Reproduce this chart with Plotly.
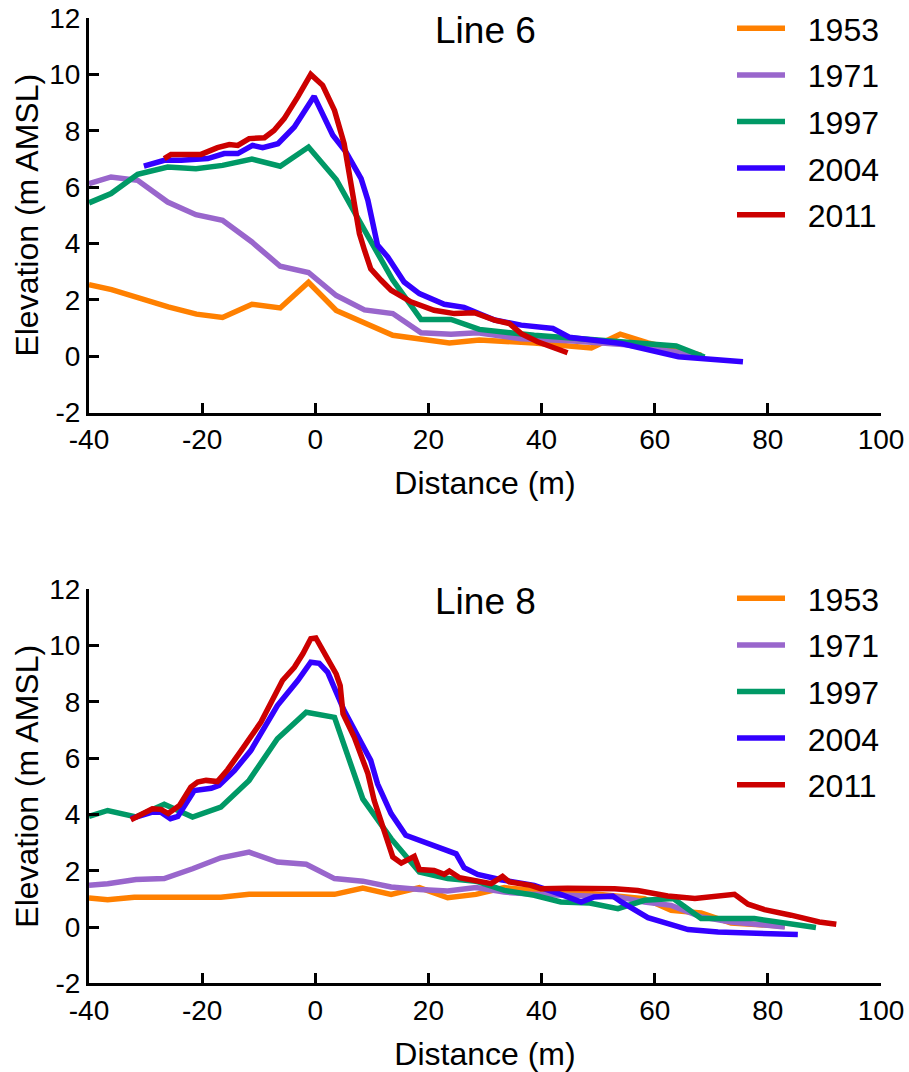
import plotly.graph_objects as go

YEARS = ["1953", "1971", "1997", "2004", "2011"]
COLORS = ["#FF8000", "#9966CC", "#009966", "#3300FF", "#CC0000"]

# ---- Line 6 ----
L6_X_1953 = [-40, -36, -26, -21, -16.4, -11.2, -6.2, -1.2, 3.7, 13.7, 23.7, 29, 38.7, 48.8, 53.9, 58.8, 68.2]
L6_Y_1953 = [2.54, 2.36, 1.75, 1.49, 1.37, 1.84, 1.71, 2.62, 1.62, 0.74, 0.47, 0.57, 0.47, 0.29, 0.78, 0.47, 0.03]
L6_X_1971 = [-40, -36.1, -31.4, -26.1, -21.1, -16.4, -11.2, -6.2, -1.2, 3.7, 8.7, 13.7, 18.7, 24, 28.7, 36.4, 45, 55, 67]
L6_Y_1971 = [6.12, 6.36, 6.24, 5.47, 5.02, 4.82, 4.05, 3.19, 2.97, 2.15, 1.64, 1.51, 0.83, 0.78, 0.83, 0.62, 0.55, 0.40, 0.05]
L6_X_1997 = [-40, -36.1, -31.4, -26.1, -21.1, -16.4, -11.2, -6.2, -1.2, 3.7, 8.7, 13.7, 18.7, 24, 29, 38.7, 48.8, 58.8, 63.8, 68.8]
L6_Y_1997 = [5.44, 5.77, 6.45, 6.71, 6.65, 6.77, 6.99, 6.74, 7.42, 6.27, 4.47, 2.70, 1.30, 1.30, 0.95, 0.74, 0.59, 0.43, 0.36, -0.03]
L6_X_2004 = [-30.3, -26.7, -23.7, -19.0, -16.1, -13.7, -11.1, -9.3, -6.6, -3.7, -0.2, 3.1, 5.4, 8.1, 9.3, 11.0, 12.8, 15.7,
             18.4, 22.8, 26.3, 31.7, 36.4, 42.0, 44.9, 54.1, 64.2, 75.6]
L6_Y_2004 = [6.74, 6.95, 6.95, 7.01, 7.19, 7.19, 7.48, 7.40, 7.54, 8.13, 9.22, 7.84, 7.25, 6.30, 5.53, 3.94, 3.52, 2.63,
             2.22, 1.84, 1.73, 1.28, 1.10, 0.98, 0.67, 0.45, -0.02, -0.20]
L6_X_2011 = [-26.7, -25.5, -20.2, -17.3, -15.2, -13.7, -11.7, -9.0, -7.3, -5.5, -3.1, -0.8, 1.3, 3.4, 5.1, 6.6, 7.8, 8.7,
             9.8, 11.6, 13.4, 16.9, 21.0, 24.6, 28.1, 31.7, 34.3, 36.4, 39.3, 44.6]
L6_Y_2011 = [7.01, 7.16, 7.16, 7.40, 7.51, 7.48, 7.72, 7.75, 8.01, 8.43, 9.20, 10.0, 9.61, 8.72, 7.54, 5.89, 4.35, 3.76,
             3.10, 2.70, 2.34, 1.93, 1.63, 1.51, 1.54, 1.28, 1.16, 0.80, 0.51, 0.12]

# ---- Line 8 ----
L8_X_1953 = [-40, -36.7, -32.0, -16.7, -11.7, 3.4, 8.4, 13.4, 18.4, 23.4, 28.4, 33.4, 38.7, 48, 58.2, 62.9, 68.2, 73.5, 83]
L8_Y_1953 = [1.03, 0.97, 1.06, 1.06, 1.16, 1.16, 1.38, 1.16, 1.40, 1.04, 1.16, 1.40, 1.30, 1.20, 1.01, 0.59, 0.50, 0.14, 0.03]
L8_X_1971 = [-40, -36.7, -31.7, -26.7, -21.7, -16.7, -11.7, -6.7, -1.6, 3.4, 8.4, 13.4, 18.4, 23.4, 28.4, 33.4, 38.7,
             53.5, 58.2, 62.9, 68.2, 73.5, 83]
L8_Y_1971 = [1.48, 1.54, 1.69, 1.72, 2.07, 2.46, 2.66, 2.31, 2.23, 1.72, 1.63, 1.42, 1.33, 1.28, 1.40, 1.24, 1.16,
             1.07, 0.89, 0.77, 0.36, 0.18, 0.0]
L8_X_1997 = [-40, -36.7, -31.7, -26.7, -21.7, -16.7, -11.7, -6.7, -1.6, 3.4, 8.4, 13.4, 18.4, 23.4, 28.4, 33.4, 38.7,
             43.4, 48.5, 53.5, 58.2, 63.3, 68.2, 77.6, 88.5]
L8_Y_1997 = [3.93, 4.14, 3.91, 4.36, 3.91, 4.26, 5.21, 6.69, 7.63, 7.45, 4.55, 3.14, 1.95, 1.72, 1.63, 1.30, 1.13,
             0.89, 0.85, 0.65, 0.95, 1.01, 0.30, 0.30, -0.02]
L8_X_2004 = [-32.6, -28.8, -27.3, -25.6, -24.3, -21.4, -18.4, -17.0, -14.3, -11.4, -6.7, -3.1, -0.8, 0.7, 2.2, 5.1, 8.7,
             9.8, 11.0, 13.4, 16.0, 18.7, 21.9, 23.7, 24.9, 26.3, 28.7, 32.8, 38.7, 43.4, 47.0, 49.3, 52.6, 54.1, 58.8,
             65.9, 71.2, 85.3]
L8_Y_2004 = [3.85, 4.08, 4.08, 3.85, 3.93, 4.85, 4.93, 5.03, 5.56, 6.27, 7.87, 8.76, 9.41, 9.37, 9.05, 7.69, 6.33,
             5.92, 5.09, 4.03, 3.26, 3.05, 2.82, 2.66, 2.60, 2.11, 1.87, 1.68, 1.48, 1.16, 0.89, 1.07, 1.10, 0.89, 0.33,
             -0.09, -0.18, -0.27]
L8_X_2011 = [-32.6, -30.5, -28.8, -27.3, -26.0, -24.0, -22.0, -20.8, -19.3, -17.3, -15.5, -13.1, -9.6, -5.8, -3.7, -2.2,
             -0.8, 0.1, 1.9, 3.7, 4.4, 4.9, 6.9, 9.3, 10.4, 13.7, 15.2, 17.5, 18.4, 21.0, 22.8, 23.7, 25.5, 28.1, 31.1,
             33.1, 34.3, 38.1, 39.9, 44.6, 52.9, 57.0, 62.3, 67.1, 74.1, 76.5, 79.4, 84.1, 89.1, 92.1]
L8_Y_2011 = [3.81, 4.03, 4.20, 4.18, 4.03, 4.32, 4.97, 5.15, 5.21, 5.17, 5.59, 6.27, 7.28, 8.76, 9.23, 9.71,
             10.24, 10.27, 9.58, 8.99, 8.58, 7.58, 6.74, 5.45, 4.50, 2.49, 2.27, 2.51, 2.04, 2.01, 1.87, 1.99, 1.75, 1.66, 1.54,
             1.80, 1.60, 1.48, 1.36, 1.38, 1.36, 1.30, 1.10, 1.01, 1.16, 0.81, 0.62, 0.42, 0.18, 0.10]

X_TICKS = [-40, -20, 0, 20, 40, 60, 80, 100]
X_TICK_TEXT = ["-40", "-20", "0", "20", "40", "60", "80", "100"]
Y_TICKS = [-2, 0, 2, 4, 6, 8, 10, 12]
Y_TICK_TEXT = ["-2", "0", "2", "4", "6", "8", "10", "12"]
TITLES = ["Line 6", "Line 8"]

FONT = "Arial, Liberation Sans, sans-serif"
W, H = 909, 1072

L6 = [(L6_X_1953, L6_Y_1953), (L6_X_1971, L6_Y_1971), (L6_X_1997, L6_Y_1997), (L6_X_2004, L6_Y_2004), (L6_X_2011, L6_Y_2011)]
L8 = [(L8_X_1953, L8_Y_1953), (L8_X_1971, L8_Y_1971), (L8_X_1997, L8_Y_1997), (L8_X_2004, L8_Y_2004), (L8_X_2011, L8_Y_2011)]

NBSP = "\u00a0"

fig = go.Figure()
for panel, (series, xa, ya, leg) in enumerate([(L6, "x", "y", "legend"), (L8, "x2", "y2", "legend2")]):
    for yr, col, (xs, ys) in zip(YEARS, COLORS, series):
        fig.add_trace(go.Scatter(
            x=xs, y=ys, mode="lines", name=NBSP * 2 + yr, xaxis=xa, yaxis=ya,
            line=dict(color=col, width=5.5), legend=leg, legendgroup=f"p{panel}_{yr}",
        ))

xdom = [89 / W, 881 / W]
ydom_top = [1 - 412.5 / H, 1 - 18 / H]
ydom_bot = [1 - 983.3 / H, 1 - 589.3 / H]

def xaxis_cfg(anchor):
    return dict(
        domain=xdom, anchor=anchor, range=[-40, 100], tickvals=X_TICKS, ticktext=X_TICK_TEXT,
        ticks="inside", ticklen=10, tickwidth=3, tickcolor="black",
        showline=True, linewidth=3, linecolor="black", mirror=False,
        showgrid=False, zeroline=False,
        tickfont=dict(family=FONT, size=28, color="black"),
        title=dict(text="Distance (m)", font=dict(family=FONT, size=32, color="black"), standoff=18),
    )

def yaxis_cfg(anchor, dom):
    return dict(
        domain=dom, anchor=anchor, range=[-2, 12], tickvals=Y_TICKS, ticktext=Y_TICK_TEXT,
        ticks="inside", ticklen=10, tickwidth=3, tickcolor="black",
        showline=True, linewidth=3, linecolor="black",
        showgrid=False, zeroline=False,
        tickfont=dict(family=FONT, size=28, color="black"),
        title=dict(text="Elevation (m AMSL)", font=dict(family=FONT, size=32, color="black"), standoff=2),
    )

legend_common = dict(
    xanchor="left", yanchor="top", bgcolor="rgba(0,0,0,0)", borderwidth=0,
    font=dict(family=FONT, size=32, color="black"), itemwidth=48, tracegroupgap=2,
    traceorder="grouped",
)

fig.update_layout(
    width=W, height=H,
    margin=dict(l=0, r=0, t=0, b=0, autoexpand=False),
    paper_bgcolor="white", plot_bgcolor="white",
    xaxis=xaxis_cfg("y"),
    yaxis=yaxis_cfg("x", ydom_top),
    xaxis2=xaxis_cfg("y2"),
    yaxis2=yaxis_cfg("x2", ydom_bot),
    legend=dict(x=732 / W, y=1 - 1 / H, **legend_common),
    legend2=dict(x=732 / W, y=1 - 571 / H, **legend_common),
    annotations=[
        dict(text=TITLES[0], x=485 / W, y=1 - 31 / H, xref="paper", yref="paper", showarrow=False,
             xanchor="center", yanchor="middle", font=dict(family=FONT, size=37, color="black")),
        dict(text=TITLES[1], x=485 / W, y=1 - 601 / H, xref="paper", yref="paper", showarrow=False,
             xanchor="center", yanchor="middle", font=dict(family=FONT, size=37, color="black")),
    ],
    showlegend=True,
)

fig.write_html("out.html", config={"displayModeBar": False},
               post_script="document.body.style.margin='0';")
